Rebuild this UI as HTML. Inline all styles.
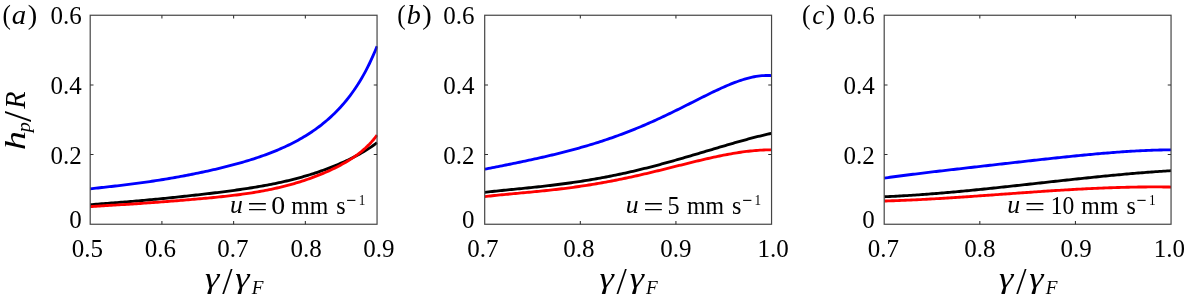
<!DOCTYPE html>
<html><head><meta charset="utf-8"><title>figure</title>
<style>
html,body{margin:0;padding:0;background:#fff;overflow:hidden}
svg{display:block}
text{font-family:"Liberation Serif",serif;font-size:25px;fill:#000}
</style></head><body>
<svg width="1184" height="302" viewBox="0 0 1184 302">
<rect width="1184" height="302" fill="#fff"/>
<clipPath id="ca"><rect x="90.2" y="15.25" width="287.45" height="209.0"/></clipPath>
<path d="M90.20,188.83 L92.13,188.61 L94.05,188.39 L95.98,188.18 L97.90,187.96 L99.83,187.75 L101.75,187.54 L103.68,187.33 L105.60,187.12 L107.53,186.91 L109.45,186.69 L111.38,186.48 L113.30,186.26 L115.23,186.04 L117.15,185.82 L119.08,185.60 L121.00,185.37 L122.93,185.15 L124.85,184.91 L126.78,184.68 L128.70,184.44 L130.63,184.20 L132.55,183.95 L134.48,183.71 L136.40,183.45 L138.33,183.20 L140.25,182.93 L142.18,182.67 L144.10,182.40 L146.03,182.13 L147.96,181.85 L149.88,181.57 L151.81,181.28 L153.73,180.99 L155.66,180.69 L157.58,180.39 L159.51,180.09 L161.43,179.78 L163.36,179.47 L165.28,179.15 L167.21,178.83 L169.13,178.50 L171.06,178.17 L172.98,177.84 L174.91,177.50 L176.83,177.16 L178.76,176.81 L180.68,176.46 L182.61,176.10 L184.53,175.74 L186.46,175.37 L188.38,175.00 L190.31,174.62 L192.23,174.24 L194.16,173.86 L196.08,173.47 L198.01,173.07 L199.93,172.67 L201.86,172.27 L203.78,171.85 L205.71,171.44 L207.64,171.02 L209.56,170.59 L211.49,170.16 L213.41,169.72 L215.34,169.27 L217.26,168.82 L219.19,168.37 L221.11,167.90 L223.04,167.43 L224.96,166.96 L226.89,166.47 L228.81,165.98 L230.74,165.48 L232.66,164.97 L234.59,164.46 L236.51,163.94 L238.44,163.40 L240.36,162.86 L242.29,162.31 L244.21,161.75 L246.14,161.18 L248.06,160.60 L249.99,160.00 L251.91,159.40 L253.84,158.79 L255.76,158.16 L257.69,157.52 L259.61,156.87 L261.54,156.20 L263.47,155.52 L265.39,154.82 L267.32,154.11 L269.24,153.39 L271.17,152.65 L273.09,151.89 L275.02,151.11 L276.94,150.32 L278.87,149.51 L280.79,148.67 L282.72,147.82 L284.64,146.95 L286.57,146.05 L288.49,145.13 L290.42,144.19 L292.34,143.22 L294.27,142.23 L296.19,141.21 L298.12,140.17 L300.04,139.09 L301.97,137.99 L303.89,136.85 L305.82,135.69 L307.74,134.48 L309.67,133.25 L311.59,131.98 L313.52,130.67 L315.44,129.31 L317.37,127.92 L319.29,126.49 L321.22,125.01 L323.15,123.48 L325.07,121.90 L327.00,120.28 L328.92,118.59 L330.85,116.85 L332.77,115.05 L334.70,113.19 L336.62,111.26 L338.55,109.26 L340.47,107.19 L342.40,105.04 L344.32,102.81 L346.25,100.50 L348.17,98.09 L350.10,95.59 L352.02,92.98 L353.95,90.27 L355.87,87.44 L357.80,84.50 L359.72,81.42 L361.65,78.20 L363.57,74.84 L365.50,71.32 L367.42,67.63 L369.35,63.76 L371.27,59.70 L373.20,55.44 L375.12,50.95 L377.05,46.22" fill="none" stroke="#0000ff" stroke-width="2.85" stroke-linejoin="round" clip-path="url(#ca)"/>
<path d="M90.20,204.75 L92.13,204.58 L94.05,204.42 L95.98,204.26 L97.90,204.10 L99.83,203.94 L101.75,203.79 L103.68,203.64 L105.60,203.49 L107.53,203.34 L109.45,203.19 L111.38,203.04 L113.30,202.88 L115.23,202.73 L117.15,202.58 L119.08,202.43 L121.00,202.28 L122.93,202.12 L124.85,201.97 L126.78,201.81 L128.70,201.65 L130.63,201.49 L132.55,201.33 L134.48,201.17 L136.40,201.00 L138.33,200.83 L140.25,200.67 L142.18,200.49 L144.10,200.32 L146.03,200.15 L147.96,199.97 L149.88,199.79 L151.81,199.61 L153.73,199.43 L155.66,199.25 L157.58,199.06 L159.51,198.87 L161.43,198.68 L163.36,198.49 L165.28,198.30 L167.21,198.11 L169.13,197.91 L171.06,197.71 L172.98,197.51 L174.91,197.31 L176.83,197.11 L178.76,196.91 L180.68,196.71 L182.61,196.50 L184.53,196.29 L186.46,196.08 L188.38,195.88 L190.31,195.66 L192.23,195.45 L194.16,195.24 L196.08,195.02 L198.01,194.81 L199.93,194.59 L201.86,194.37 L203.78,194.15 L205.71,193.92 L207.64,193.70 L209.56,193.47 L211.49,193.24 L213.41,193.01 L215.34,192.78 L217.26,192.54 L219.19,192.30 L221.11,192.06 L223.04,191.82 L224.96,191.57 L226.89,191.33 L228.81,191.07 L230.74,190.82 L232.66,190.56 L234.59,190.30 L236.51,190.03 L238.44,189.76 L240.36,189.48 L242.29,189.20 L244.21,188.92 L246.14,188.63 L248.06,188.33 L249.99,188.03 L251.91,187.73 L253.84,187.42 L255.76,187.10 L257.69,186.78 L259.61,186.45 L261.54,186.11 L263.47,185.76 L265.39,185.41 L267.32,185.05 L269.24,184.69 L271.17,184.31 L273.09,183.93 L275.02,183.54 L276.94,183.14 L278.87,182.73 L280.79,182.31 L282.72,181.88 L284.64,181.44 L286.57,181.00 L288.49,180.54 L290.42,180.07 L292.34,179.59 L294.27,179.10 L296.19,178.60 L298.12,178.09 L300.04,177.56 L301.97,177.03 L303.89,176.48 L305.82,175.92 L307.74,175.34 L309.67,174.76 L311.59,174.16 L313.52,173.55 L315.44,172.92 L317.37,172.28 L319.29,171.63 L321.22,170.96 L323.15,170.28 L325.07,169.59 L327.00,168.88 L328.92,168.15 L330.85,167.40 L332.77,166.65 L334.70,165.87 L336.62,165.08 L338.55,164.26 L340.47,163.43 L342.40,162.59 L344.32,161.72 L346.25,160.83 L348.17,159.92 L350.10,158.98 L352.02,158.03 L353.95,157.05 L355.87,156.04 L357.80,155.00 L359.72,153.94 L361.65,152.84 L363.57,151.71 L365.50,150.55 L367.42,149.34 L369.35,148.10 L371.27,146.81 L373.20,145.47 L375.12,144.08 L377.05,142.63" fill="none" stroke="#000000" stroke-width="2.85" stroke-linejoin="round" clip-path="url(#ca)"/>
<path d="M90.20,206.62 L92.13,206.48 L94.05,206.35 L95.98,206.23 L97.90,206.10 L99.83,205.98 L101.75,205.86 L103.68,205.74 L105.60,205.63 L107.53,205.51 L109.45,205.40 L111.38,205.28 L113.30,205.17 L115.23,205.05 L117.15,204.94 L119.08,204.82 L121.00,204.70 L122.93,204.59 L124.85,204.47 L126.78,204.34 L128.70,204.22 L130.63,204.10 L132.55,203.97 L134.48,203.85 L136.40,203.72 L138.33,203.59 L140.25,203.46 L142.18,203.33 L144.10,203.19 L146.03,203.05 L147.96,202.92 L149.88,202.78 L151.81,202.64 L153.73,202.50 L155.66,202.36 L157.58,202.21 L159.51,202.07 L161.43,201.92 L163.36,201.77 L165.28,201.63 L167.21,201.48 L169.13,201.33 L171.06,201.18 L172.98,201.02 L174.91,200.87 L176.83,200.72 L178.76,200.56 L180.68,200.41 L182.61,200.25 L184.53,200.09 L186.46,199.93 L188.38,199.77 L190.31,199.61 L192.23,199.45 L194.16,199.28 L196.08,199.11 L198.01,198.95 L199.93,198.78 L201.86,198.61 L203.78,198.43 L205.71,198.26 L207.64,198.08 L209.56,197.90 L211.49,197.71 L213.41,197.53 L215.34,197.34 L217.26,197.14 L219.19,196.95 L221.11,196.75 L223.04,196.54 L224.96,196.33 L226.89,196.12 L228.81,195.90 L230.74,195.68 L232.66,195.45 L234.59,195.21 L236.51,194.97 L238.44,194.72 L240.36,194.47 L242.29,194.21 L244.21,193.94 L246.14,193.67 L248.06,193.38 L249.99,193.09 L251.91,192.79 L253.84,192.49 L255.76,192.17 L257.69,191.84 L259.61,191.51 L261.54,191.16 L263.47,190.81 L265.39,190.44 L267.32,190.07 L269.24,189.68 L271.17,189.28 L273.09,188.87 L275.02,188.45 L276.94,188.01 L278.87,187.57 L280.79,187.11 L282.72,186.64 L284.64,186.15 L286.57,185.65 L288.49,185.14 L290.42,184.62 L292.34,184.08 L294.27,183.52 L296.19,182.96 L298.12,182.37 L300.04,181.78 L301.97,181.16 L303.89,180.54 L305.82,179.89 L307.74,179.23 L309.67,178.56 L311.59,177.87 L313.52,177.16 L315.44,176.43 L317.37,175.69 L319.29,174.93 L321.22,174.15 L323.15,173.35 L325.07,172.53 L327.00,171.69 L328.92,170.83 L330.85,169.95 L332.77,169.04 L334.70,168.11 L336.62,167.16 L338.55,166.18 L340.47,165.16 L342.40,164.12 L344.32,163.04 L346.25,161.93 L348.17,160.78 L350.10,159.59 L352.02,158.35 L353.95,157.06 L355.87,155.71 L357.80,154.31 L359.72,152.83 L361.65,151.29 L363.57,149.66 L365.50,147.95 L367.42,146.13 L369.35,144.21 L371.27,142.16 L373.20,139.98 L375.12,137.64 L377.05,135.13" fill="none" stroke="#ff0000" stroke-width="2.85" stroke-linejoin="round" clip-path="url(#ca)"/>
<rect x="90.2" y="15.25" width="286.85" height="209.00" fill="none" stroke="#454545" stroke-width="1.2"/>
<path d="M161.91,224.25v-3.3 M161.91,15.25v3.3 M233.62,224.25v-3.3 M233.62,15.25v3.3 M305.34,224.25v-3.3 M305.34,15.25v3.3 M90.2,154.58h3.3 M377.05,154.58h-3.3 M90.2,84.92h3.3 M377.05,84.92h-3.3" stroke="#2e2e2e" stroke-width="1.05" fill="none"/>
<text x="87.40" y="256.7" text-anchor="middle">0.5</text>
<text x="160.40" y="256.7" text-anchor="middle">0.6</text>
<text x="232.90" y="256.7" text-anchor="middle">0.7</text>
<text x="306.00" y="256.7" text-anchor="middle">0.8</text>
<text x="378.80" y="256.7" text-anchor="middle">0.9</text>
<text x="81.80" y="24.4" text-anchor="end">0.6</text>
<text x="81.80" y="94.2" text-anchor="end">0.4</text>
<text x="81.80" y="164.1" text-anchor="end">0.2</text>
<text x="81.80" y="228.0" text-anchor="end">0</text>
<clipPath id="cb"><rect x="484.7" y="15.25" width="287.45" height="209.0"/></clipPath>
<path d="M484.70,169.22 L486.63,168.84 L488.55,168.46 L490.48,168.08 L492.40,167.69 L494.33,167.31 L496.25,166.93 L498.18,166.55 L500.10,166.16 L502.03,165.78 L503.95,165.39 L505.88,165.01 L507.80,164.62 L509.73,164.23 L511.65,163.84 L513.58,163.44 L515.50,163.05 L517.43,162.65 L519.35,162.25 L521.28,161.85 L523.20,161.45 L525.13,161.04 L527.05,160.63 L528.98,160.22 L530.90,159.80 L532.83,159.39 L534.75,158.96 L536.68,158.54 L538.60,158.11 L540.53,157.68 L542.46,157.24 L544.38,156.80 L546.31,156.36 L548.23,155.91 L550.16,155.46 L552.08,155.00 L554.01,154.54 L555.93,154.07 L557.86,153.60 L559.78,153.12 L561.71,152.64 L563.63,152.15 L565.56,151.66 L567.48,151.16 L569.41,150.65 L571.33,150.14 L573.26,149.62 L575.18,149.10 L577.11,148.57 L579.03,148.03 L580.96,147.49 L582.88,146.94 L584.81,146.39 L586.73,145.82 L588.66,145.25 L590.58,144.67 L592.51,144.09 L594.43,143.49 L596.36,142.89 L598.28,142.28 L600.21,141.67 L602.14,141.04 L604.06,140.41 L605.99,139.77 L607.91,139.12 L609.84,138.46 L611.76,137.79 L613.69,137.11 L615.61,136.43 L617.54,135.74 L619.46,135.03 L621.39,134.32 L623.31,133.60 L625.24,132.87 L627.16,132.13 L629.09,131.38 L631.01,130.63 L632.94,129.86 L634.86,129.08 L636.79,128.30 L638.71,127.50 L640.64,126.70 L642.56,125.89 L644.49,125.07 L646.41,124.24 L648.34,123.40 L650.26,122.55 L652.19,121.69 L654.11,120.83 L656.04,119.95 L657.97,119.07 L659.89,118.18 L661.82,117.28 L663.74,116.38 L665.67,115.47 L667.59,114.55 L669.52,113.62 L671.44,112.69 L673.37,111.76 L675.29,110.81 L677.22,109.86 L679.14,108.91 L681.07,107.96 L682.99,106.99 L684.92,106.03 L686.84,105.06 L688.77,104.10 L690.69,103.13 L692.62,102.16 L694.54,101.19 L696.47,100.22 L698.39,99.25 L700.32,98.28 L702.24,97.32 L704.17,96.36 L706.09,95.40 L708.02,94.46 L709.94,93.51 L711.87,92.58 L713.79,91.66 L715.72,90.74 L717.65,89.84 L719.57,88.95 L721.50,88.07 L723.42,87.21 L725.35,86.36 L727.27,85.53 L729.20,84.73 L731.12,83.94 L733.05,83.17 L734.97,82.43 L736.90,81.72 L738.82,81.03 L740.75,80.38 L742.67,79.75 L744.60,79.16 L746.52,78.60 L748.45,78.08 L750.37,77.60 L752.30,77.17 L754.22,76.77 L756.15,76.43 L758.07,76.13 L760.00,75.89 L761.92,75.70 L763.85,75.56 L765.77,75.49 L767.70,75.48 L769.62,75.53 L771.55,75.65" fill="none" stroke="#0000ff" stroke-width="2.85" stroke-linejoin="round" clip-path="url(#cb)"/>
<path d="M484.70,192.31 L486.63,192.10 L488.55,191.88 L490.48,191.67 L492.40,191.47 L494.33,191.26 L496.25,191.06 L498.18,190.86 L500.10,190.66 L502.03,190.47 L503.95,190.27 L505.88,190.08 L507.80,189.89 L509.73,189.70 L511.65,189.51 L513.58,189.31 L515.50,189.12 L517.43,188.93 L519.35,188.74 L521.28,188.55 L523.20,188.36 L525.13,188.16 L527.05,187.97 L528.98,187.77 L530.90,187.57 L532.83,187.37 L534.75,187.17 L536.68,186.97 L538.60,186.76 L540.53,186.55 L542.46,186.34 L544.38,186.12 L546.31,185.91 L548.23,185.68 L550.16,185.46 L552.08,185.23 L554.01,185.00 L555.93,184.76 L557.86,184.53 L559.78,184.28 L561.71,184.03 L563.63,183.78 L565.56,183.53 L567.48,183.27 L569.41,183.00 L571.33,182.73 L573.26,182.46 L575.18,182.18 L577.11,181.89 L579.03,181.60 L580.96,181.31 L582.88,181.01 L584.81,180.70 L586.73,180.39 L588.66,180.08 L590.58,179.76 L592.51,179.43 L594.43,179.10 L596.36,178.76 L598.28,178.42 L600.21,178.07 L602.14,177.71 L604.06,177.35 L605.99,176.99 L607.91,176.62 L609.84,176.24 L611.76,175.86 L613.69,175.47 L615.61,175.07 L617.54,174.67 L619.46,174.27 L621.39,173.86 L623.31,173.44 L625.24,173.02 L627.16,172.59 L629.09,172.15 L631.01,171.71 L632.94,171.27 L634.86,170.82 L636.79,170.36 L638.71,169.90 L640.64,169.44 L642.56,168.97 L644.49,168.49 L646.41,168.01 L648.34,167.52 L650.26,167.03 L652.19,166.54 L654.11,166.03 L656.04,165.53 L657.97,165.02 L659.89,164.51 L661.82,163.99 L663.74,163.47 L665.67,162.94 L667.59,162.41 L669.52,161.88 L671.44,161.34 L673.37,160.80 L675.29,160.25 L677.22,159.71 L679.14,159.15 L681.07,158.60 L682.99,158.05 L684.92,157.49 L686.84,156.93 L688.77,156.36 L690.69,155.80 L692.62,155.23 L694.54,154.66 L696.47,154.09 L698.39,153.52 L700.32,152.95 L702.24,152.38 L704.17,151.80 L706.09,151.23 L708.02,150.65 L709.94,150.08 L711.87,149.51 L713.79,148.93 L715.72,148.36 L717.65,147.79 L719.57,147.22 L721.50,146.65 L723.42,146.08 L725.35,145.52 L727.27,144.95 L729.20,144.39 L731.12,143.84 L733.05,143.28 L734.97,142.73 L736.90,142.18 L738.82,141.64 L740.75,141.10 L742.67,140.57 L744.60,140.04 L746.52,139.51 L748.45,138.99 L750.37,138.48 L752.30,137.97 L754.22,137.47 L756.15,136.98 L758.07,136.49 L760.00,136.01 L761.92,135.54 L763.85,135.08 L765.77,134.63 L767.70,134.18 L769.62,133.74 L771.55,133.32" fill="none" stroke="#000000" stroke-width="2.85" stroke-linejoin="round" clip-path="url(#cb)"/>
<path d="M484.70,196.61 L486.63,196.39 L488.55,196.17 L490.48,195.96 L492.40,195.75 L494.33,195.54 L496.25,195.34 L498.18,195.15 L500.10,194.95 L502.03,194.76 L503.95,194.58 L505.88,194.39 L507.80,194.21 L509.73,194.02 L511.65,193.84 L513.58,193.66 L515.50,193.48 L517.43,193.31 L519.35,193.13 L521.28,192.95 L523.20,192.77 L525.13,192.59 L527.05,192.41 L528.98,192.23 L530.90,192.05 L532.83,191.86 L534.75,191.68 L536.68,191.49 L538.60,191.30 L540.53,191.11 L542.46,190.91 L544.38,190.71 L546.31,190.51 L548.23,190.31 L550.16,190.10 L552.08,189.89 L554.01,189.67 L555.93,189.46 L557.86,189.23 L559.78,189.01 L561.71,188.78 L563.63,188.54 L565.56,188.30 L567.48,188.06 L569.41,187.81 L571.33,187.55 L573.26,187.29 L575.18,187.03 L577.11,186.76 L579.03,186.49 L580.96,186.21 L582.88,185.92 L584.81,185.63 L586.73,185.34 L588.66,185.03 L590.58,184.73 L592.51,184.42 L594.43,184.10 L596.36,183.77 L598.28,183.45 L600.21,183.11 L602.14,182.77 L604.06,182.43 L605.99,182.07 L607.91,181.72 L609.84,181.36 L611.76,180.99 L613.69,180.62 L615.61,180.24 L617.54,179.85 L619.46,179.47 L621.39,179.07 L623.31,178.67 L625.24,178.27 L627.16,177.86 L629.09,177.45 L631.01,177.03 L632.94,176.60 L634.86,176.18 L636.79,175.74 L638.71,175.31 L640.64,174.87 L642.56,174.42 L644.49,173.98 L646.41,173.53 L648.34,173.07 L650.26,172.61 L652.19,172.15 L654.11,171.69 L656.04,171.22 L657.97,170.75 L659.89,170.28 L661.82,169.81 L663.74,169.33 L665.67,168.85 L667.59,168.37 L669.52,167.90 L671.44,167.41 L673.37,166.93 L675.29,166.45 L677.22,165.97 L679.14,165.49 L681.07,165.01 L682.99,164.53 L684.92,164.05 L686.84,163.57 L688.77,163.10 L690.69,162.62 L692.62,162.15 L694.54,161.68 L696.47,161.21 L698.39,160.75 L700.32,160.29 L702.24,159.84 L704.17,159.39 L706.09,158.94 L708.02,158.50 L709.94,158.07 L711.87,157.64 L713.79,157.22 L715.72,156.80 L717.65,156.39 L719.57,155.99 L721.50,155.60 L723.42,155.22 L725.35,154.84 L727.27,154.48 L729.20,154.12 L731.12,153.78 L733.05,153.44 L734.97,153.12 L736.90,152.81 L738.82,152.51 L740.75,152.23 L742.67,151.95 L744.60,151.70 L746.52,151.45 L748.45,151.22 L750.37,151.01 L752.30,150.81 L754.22,150.63 L756.15,150.47 L758.07,150.32 L760.00,150.20 L761.92,150.09 L763.85,150.00 L765.77,149.93 L767.70,149.89 L769.62,149.86 L771.55,149.85" fill="none" stroke="#ff0000" stroke-width="2.85" stroke-linejoin="round" clip-path="url(#cb)"/>
<rect x="484.7" y="15.25" width="286.85" height="209.00" fill="none" stroke="#454545" stroke-width="1.2"/>
<path d="M580.32,224.25v-3.3 M580.32,15.25v3.3 M675.93,224.25v-3.3 M675.93,15.25v3.3 M484.7,154.58h3.3 M771.55,154.58h-3.3 M484.7,84.92h3.3 M771.55,84.92h-3.3" stroke="#2e2e2e" stroke-width="1.05" fill="none"/>
<text x="482.95" y="256.7" text-anchor="middle">0.7</text>
<text x="578.90" y="256.7" text-anchor="middle">0.8</text>
<text x="675.80" y="256.7" text-anchor="middle">0.9</text>
<text x="773.00" y="256.7" text-anchor="middle">1.0</text>
<text x="474.50" y="24.4" text-anchor="end">0.6</text>
<text x="474.50" y="94.2" text-anchor="end">0.4</text>
<text x="474.50" y="164.1" text-anchor="end">0.2</text>
<text x="474.50" y="228.0" text-anchor="end">0</text>
<clipPath id="cc"><rect x="884.2" y="15.25" width="287.45" height="209.0"/></clipPath>
<path d="M884.20,178.07 L886.13,177.80 L888.05,177.54 L889.98,177.28 L891.90,177.02 L893.83,176.76 L895.75,176.50 L897.68,176.25 L899.60,176.00 L901.53,175.75 L903.45,175.50 L905.38,175.25 L907.30,175.01 L909.23,174.77 L911.15,174.52 L913.08,174.28 L915.00,174.05 L916.93,173.81 L918.85,173.57 L920.78,173.34 L922.70,173.10 L924.63,172.87 L926.55,172.64 L928.48,172.40 L930.40,172.17 L932.33,171.94 L934.25,171.71 L936.18,171.49 L938.10,171.26 L940.03,171.03 L941.96,170.81 L943.88,170.58 L945.81,170.36 L947.73,170.13 L949.66,169.91 L951.58,169.68 L953.51,169.46 L955.43,169.24 L957.36,169.02 L959.28,168.80 L961.21,168.57 L963.13,168.35 L965.06,168.13 L966.98,167.91 L968.91,167.69 L970.83,167.47 L972.76,167.25 L974.68,167.03 L976.61,166.81 L978.53,166.59 L980.46,166.37 L982.38,166.15 L984.31,165.93 L986.23,165.71 L988.16,165.50 L990.08,165.28 L992.01,165.06 L993.93,164.84 L995.86,164.62 L997.78,164.40 L999.71,164.18 L1001.64,163.97 L1003.56,163.75 L1005.49,163.53 L1007.41,163.31 L1009.34,163.10 L1011.26,162.88 L1013.19,162.66 L1015.11,162.44 L1017.04,162.23 L1018.96,162.01 L1020.89,161.80 L1022.81,161.58 L1024.74,161.36 L1026.66,161.15 L1028.59,160.93 L1030.51,160.72 L1032.44,160.51 L1034.36,160.29 L1036.29,160.08 L1038.21,159.87 L1040.14,159.65 L1042.06,159.44 L1043.99,159.23 L1045.91,159.02 L1047.84,158.81 L1049.76,158.60 L1051.69,158.40 L1053.61,158.19 L1055.54,157.98 L1057.47,157.78 L1059.39,157.57 L1061.32,157.37 L1063.24,157.17 L1065.17,156.97 L1067.09,156.77 L1069.02,156.57 L1070.94,156.37 L1072.87,156.17 L1074.79,155.98 L1076.72,155.79 L1078.64,155.60 L1080.57,155.41 L1082.49,155.22 L1084.42,155.03 L1086.34,154.85 L1088.27,154.66 L1090.19,154.48 L1092.12,154.30 L1094.04,154.13 L1095.97,153.95 L1097.89,153.78 L1099.82,153.61 L1101.74,153.44 L1103.67,153.28 L1105.59,153.12 L1107.52,152.96 L1109.44,152.80 L1111.37,152.65 L1113.29,152.50 L1115.22,152.35 L1117.15,152.20 L1119.07,152.06 L1121.00,151.92 L1122.92,151.79 L1124.85,151.66 L1126.77,151.53 L1128.70,151.41 L1130.62,151.29 L1132.55,151.17 L1134.47,151.06 L1136.40,150.95 L1138.32,150.85 L1140.25,150.75 L1142.17,150.65 L1144.10,150.56 L1146.02,150.48 L1147.95,150.40 L1149.87,150.32 L1151.80,150.25 L1153.72,150.18 L1155.65,150.12 L1157.57,150.07 L1159.50,150.02 L1161.42,149.98 L1163.35,149.94 L1165.27,149.91 L1167.20,149.88 L1169.12,149.86 L1171.05,149.85" fill="none" stroke="#0000ff" stroke-width="2.85" stroke-linejoin="round" clip-path="url(#cc)"/>
<path d="M884.20,196.78 L886.13,196.69 L888.05,196.60 L889.98,196.51 L891.90,196.42 L893.83,196.32 L895.75,196.22 L897.68,196.12 L899.60,196.01 L901.53,195.90 L903.45,195.79 L905.38,195.68 L907.30,195.56 L909.23,195.44 L911.15,195.32 L913.08,195.19 L915.00,195.06 L916.93,194.93 L918.85,194.80 L920.78,194.66 L922.70,194.52 L924.63,194.38 L926.55,194.24 L928.48,194.09 L930.40,193.94 L932.33,193.79 L934.25,193.64 L936.18,193.49 L938.10,193.33 L940.03,193.17 L941.96,193.01 L943.88,192.84 L945.81,192.68 L947.73,192.51 L949.66,192.34 L951.58,192.17 L953.51,192.00 L955.43,191.82 L957.36,191.65 L959.28,191.47 L961.21,191.29 L963.13,191.11 L965.06,190.92 L966.98,190.74 L968.91,190.55 L970.83,190.37 L972.76,190.18 L974.68,189.99 L976.61,189.79 L978.53,189.60 L980.46,189.41 L982.38,189.21 L984.31,189.01 L986.23,188.82 L988.16,188.62 L990.08,188.42 L992.01,188.22 L993.93,188.01 L995.86,187.81 L997.78,187.61 L999.71,187.40 L1001.64,187.20 L1003.56,186.99 L1005.49,186.78 L1007.41,186.57 L1009.34,186.37 L1011.26,186.16 L1013.19,185.95 L1015.11,185.74 L1017.04,185.53 L1018.96,185.31 L1020.89,185.10 L1022.81,184.89 L1024.74,184.68 L1026.66,184.47 L1028.59,184.25 L1030.51,184.04 L1032.44,183.83 L1034.36,183.61 L1036.29,183.40 L1038.21,183.19 L1040.14,182.97 L1042.06,182.76 L1043.99,182.55 L1045.91,182.33 L1047.84,182.12 L1049.76,181.91 L1051.69,181.70 L1053.61,181.48 L1055.54,181.27 L1057.47,181.06 L1059.39,180.85 L1061.32,180.64 L1063.24,180.43 L1065.17,180.22 L1067.09,180.01 L1069.02,179.80 L1070.94,179.59 L1072.87,179.38 L1074.79,179.18 L1076.72,178.97 L1078.64,178.77 L1080.57,178.56 L1082.49,178.36 L1084.42,178.16 L1086.34,177.96 L1088.27,177.76 L1090.19,177.56 L1092.12,177.36 L1094.04,177.16 L1095.97,176.97 L1097.89,176.77 L1099.82,176.58 L1101.74,176.39 L1103.67,176.19 L1105.59,176.01 L1107.52,175.82 L1109.44,175.63 L1111.37,175.45 L1113.29,175.26 L1115.22,175.08 L1117.15,174.90 L1119.07,174.72 L1121.00,174.55 L1122.92,174.37 L1124.85,174.20 L1126.77,174.03 L1128.70,173.86 L1130.62,173.69 L1132.55,173.52 L1134.47,173.36 L1136.40,173.20 L1138.32,173.04 L1140.25,172.88 L1142.17,172.73 L1144.10,172.57 L1146.02,172.42 L1147.95,172.27 L1149.87,172.13 L1151.80,171.98 L1153.72,171.84 L1155.65,171.70 L1157.57,171.57 L1159.50,171.43 L1161.42,171.30 L1163.35,171.17 L1165.27,171.05 L1167.20,170.92 L1169.12,170.80 L1171.05,170.68" fill="none" stroke="#000000" stroke-width="2.85" stroke-linejoin="round" clip-path="url(#cc)"/>
<path d="M884.20,201.03 L886.13,200.97 L888.05,200.91 L889.98,200.85 L891.90,200.79 L893.83,200.72 L895.75,200.65 L897.68,200.58 L899.60,200.51 L901.53,200.43 L903.45,200.35 L905.38,200.27 L907.30,200.19 L909.23,200.10 L911.15,200.01 L913.08,199.92 L915.00,199.83 L916.93,199.74 L918.85,199.64 L920.78,199.55 L922.70,199.45 L924.63,199.34 L926.55,199.24 L928.48,199.14 L930.40,199.03 L932.33,198.92 L934.25,198.81 L936.18,198.70 L938.10,198.58 L940.03,198.47 L941.96,198.35 L943.88,198.24 L945.81,198.12 L947.73,198.00 L949.66,197.88 L951.58,197.75 L953.51,197.63 L955.43,197.50 L957.36,197.38 L959.28,197.25 L961.21,197.12 L963.13,196.99 L965.06,196.86 L966.98,196.73 L968.91,196.60 L970.83,196.47 L972.76,196.33 L974.68,196.20 L976.61,196.06 L978.53,195.93 L980.46,195.79 L982.38,195.66 L984.31,195.52 L986.23,195.38 L988.16,195.25 L990.08,195.11 L992.01,194.97 L993.93,194.83 L995.86,194.69 L997.78,194.55 L999.71,194.41 L1001.64,194.28 L1003.56,194.14 L1005.49,194.00 L1007.41,193.86 L1009.34,193.72 L1011.26,193.58 L1013.19,193.44 L1015.11,193.30 L1017.04,193.17 L1018.96,193.03 L1020.89,192.89 L1022.81,192.76 L1024.74,192.62 L1026.66,192.48 L1028.59,192.35 L1030.51,192.21 L1032.44,192.08 L1034.36,191.95 L1036.29,191.81 L1038.21,191.68 L1040.14,191.55 L1042.06,191.42 L1043.99,191.29 L1045.91,191.16 L1047.84,191.04 L1049.76,190.91 L1051.69,190.79 L1053.61,190.66 L1055.54,190.54 L1057.47,190.42 L1059.39,190.30 L1061.32,190.18 L1063.24,190.06 L1065.17,189.95 L1067.09,189.83 L1069.02,189.72 L1070.94,189.61 L1072.87,189.50 L1074.79,189.39 L1076.72,189.28 L1078.64,189.18 L1080.57,189.08 L1082.49,188.98 L1084.42,188.88 L1086.34,188.78 L1088.27,188.68 L1090.19,188.59 L1092.12,188.50 L1094.04,188.41 L1095.97,188.32 L1097.89,188.24 L1099.82,188.16 L1101.74,188.07 L1103.67,188.00 L1105.59,187.92 L1107.52,187.85 L1109.44,187.78 L1111.37,187.71 L1113.29,187.64 L1115.22,187.58 L1117.15,187.52 L1119.07,187.46 L1121.00,187.41 L1122.92,187.35 L1124.85,187.30 L1126.77,187.26 L1128.70,187.21 L1130.62,187.17 L1132.55,187.13 L1134.47,187.10 L1136.40,187.07 L1138.32,187.04 L1140.25,187.01 L1142.17,186.99 L1144.10,186.97 L1146.02,186.96 L1147.95,186.94 L1149.87,186.93 L1151.80,186.93 L1153.72,186.93 L1155.65,186.93 L1157.57,186.93 L1159.50,186.94 L1161.42,186.95 L1163.35,186.97 L1165.27,186.99 L1167.20,187.01 L1169.12,187.04 L1171.05,187.07" fill="none" stroke="#ff0000" stroke-width="2.85" stroke-linejoin="round" clip-path="url(#cc)"/>
<rect x="884.2" y="15.25" width="286.85" height="209.00" fill="none" stroke="#454545" stroke-width="1.2"/>
<path d="M979.82,224.25v-3.3 M979.82,15.25v3.3 M1075.43,224.25v-3.3 M1075.43,15.25v3.3 M884.2,154.58h3.3 M1171.05,154.58h-3.3 M884.2,84.92h3.3 M1171.05,84.92h-3.3" stroke="#2e2e2e" stroke-width="1.05" fill="none"/>
<text x="883.45" y="256.7" text-anchor="middle">0.7</text>
<text x="979.80" y="256.7" text-anchor="middle">0.8</text>
<text x="1076.00" y="256.7" text-anchor="middle">0.9</text>
<text x="1169.30" y="256.7" text-anchor="middle">1.0</text>
<text x="874.80" y="24.4" text-anchor="end">0.6</text>
<text x="874.80" y="94.2" text-anchor="end">0.4</text>
<text x="874.80" y="164.1" text-anchor="end">0.2</text>
<text x="874.80" y="228.0" text-anchor="end">0</text>
<text transform="translate(2.62,23.75) scale(0.893,1)" style="font-size:28.11px">(</text>
<text transform="translate(11.78,24.09) scale(1.090,1)" style="font-size:26.46px" font-style="italic">a</text>
<text transform="translate(27.70,23.75) scale(1.012,1)" style="font-size:28.11px">)</text>
<text transform="translate(397.32,23.75) scale(0.893,1)" style="font-size:28.11px">(</text>
<text transform="translate(406.82,24.07) scale(1.005,1)" style="font-size:28.00px" font-style="italic">b</text>
<text transform="translate(422.20,23.75) scale(1.012,1)" style="font-size:28.11px">)</text>
<text transform="translate(802.00,23.75) scale(0.907,1)" style="font-size:28.11px">(</text>
<text transform="translate(812.13,24.09) scale(1.036,1)" style="font-size:26.46px" font-style="italic">c</text>
<text transform="translate(825.70,23.75) scale(1.012,1)" style="font-size:28.11px">)</text>
<text transform="translate(205.12,288.13) scale(1.231,1)" style="font-size:29.62px" font-style="italic">γ</text>
<text transform="translate(222.25,293.97) scale(0.971,1)" style="font-size:38.20px">/</text>
<text transform="translate(235.33,288.13) scale(1.222,1)" style="font-size:29.62px" font-style="italic">γ</text>
<text transform="translate(251.75,293.74) scale(1.031,1)" style="font-size:18.62px" font-style="italic">F</text>
<text transform="translate(599.42,288.13) scale(1.231,1)" style="font-size:29.62px" font-style="italic">γ</text>
<text transform="translate(616.55,293.97) scale(0.971,1)" style="font-size:38.20px">/</text>
<text transform="translate(629.63,288.13) scale(1.222,1)" style="font-size:29.62px" font-style="italic">γ</text>
<text transform="translate(646.05,293.74) scale(1.031,1)" style="font-size:18.62px" font-style="italic">F</text>
<text transform="translate(999.12,288.13) scale(1.231,1)" style="font-size:29.62px" font-style="italic">γ</text>
<text transform="translate(1016.25,293.97) scale(0.971,1)" style="font-size:38.20px">/</text>
<text transform="translate(1029.33,288.13) scale(1.222,1)" style="font-size:29.62px" font-style="italic">γ</text>
<text transform="translate(1045.75,293.74) scale(1.031,1)" style="font-size:18.62px" font-style="italic">F</text>
<text transform="translate(24.79,150.20) rotate(-90) scale(1.349,1)" style="font-size:28.61px" font-style="italic">h</text>
<text transform="translate(30.07,132.34) rotate(-90) scale(1.040,1)" style="font-size:19.41px" font-style="italic">p</text>
<text transform="translate(30.65,122.05) rotate(-90) scale(0.993,1)" style="font-size:39.55px">/</text>
<text transform="translate(24.95,108.81) rotate(-90) scale(0.974,1)" style="font-size:29.08px" font-style="italic">R</text>
<text transform="translate(229.96,213.01) scale(1.063,1)" style="font-size:24.26px" font-style="italic">u</text>
<text transform="translate(247.34,216.16) scale(1.369,1)" style="font-size:26.40px">=</text>
<text transform="translate(271.34,213.60) scale(1.092,1)" style="font-size:25.50px">0</text>
<text transform="translate(291.17,213.60) scale(0.953,1)" style="font-size:25.00px">mm</text>
<text transform="translate(336.18,213.60) scale(0.965,1)" style="font-size:25.00px">s</text>
<text transform="translate(346.36,207.52) scale(0.776,1)" style="font-size:23.00px">−</text>
<text transform="translate(358.77,204.95) scale(0.844,1)" style="font-size:15.57px">1</text>
<text transform="translate(625.76,213.01) scale(1.063,1)" style="font-size:24.26px" font-style="italic">u</text>
<text transform="translate(643.14,216.16) scale(1.369,1)" style="font-size:26.40px">=</text>
<text transform="translate(667.50,213.60) scale(0.951,1)" style="font-size:25.50px">5</text>
<text transform="translate(686.97,213.60) scale(0.953,1)" style="font-size:25.00px">mm</text>
<text transform="translate(731.98,213.60) scale(0.965,1)" style="font-size:25.00px">s</text>
<text transform="translate(742.16,207.52) scale(0.776,1)" style="font-size:23.00px">−</text>
<text transform="translate(754.57,204.95) scale(0.844,1)" style="font-size:15.57px">1</text>
<text transform="translate(1007.26,213.01) scale(1.063,1)" style="font-size:24.26px" font-style="italic">u</text>
<text transform="translate(1024.64,216.16) scale(1.369,1)" style="font-size:26.40px">=</text>
<text transform="translate(1050.63,213.60) scale(0.924,1)" style="font-size:25.50px">10</text>
<text transform="translate(1081.37,213.60) scale(0.953,1)" style="font-size:25.00px">mm</text>
<text transform="translate(1126.38,213.60) scale(0.965,1)" style="font-size:25.00px">s</text>
<text transform="translate(1136.56,207.52) scale(0.776,1)" style="font-size:23.00px">−</text>
<text transform="translate(1148.97,204.95) scale(0.844,1)" style="font-size:15.57px">1</text>
</svg></body></html>
